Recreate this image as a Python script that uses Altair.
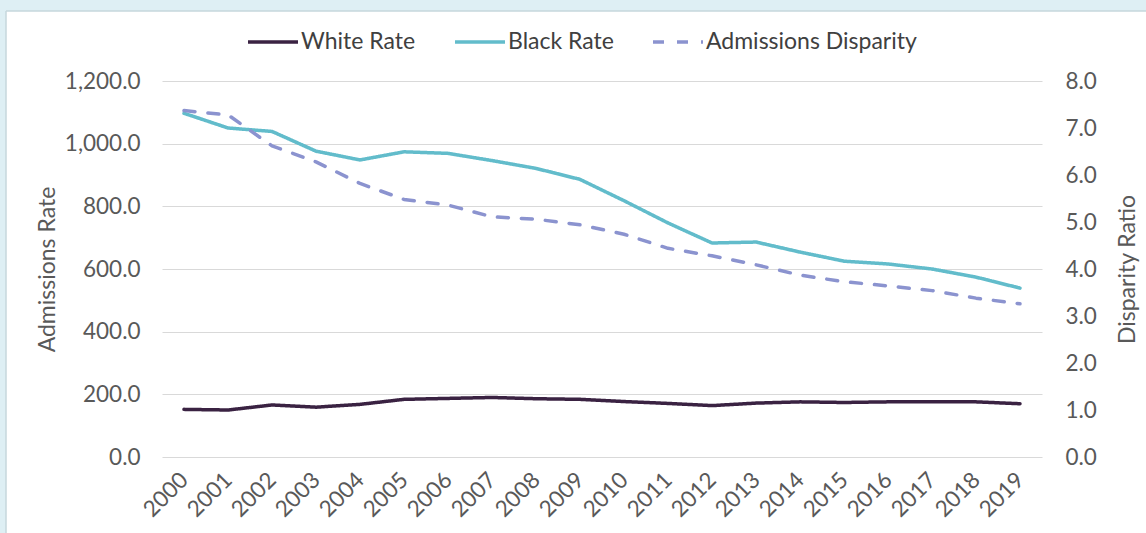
import altair as alt
import pandas as pd

years = [str(y) for y in range(2000, 2020)]
white_rate = [152, 150, 166, 159, 168, 184, 187, 190, 186, 184,
              177, 171, 164, 172, 176, 174, 176, 176, 176, 170]
black_rate = [1097, 1050, 1039, 976, 948, 974, 969, 946, 921, 886,
              818, 747, 683, 686, 654, 625, 616, 600, 574, 539]
disparity = [7.37, 7.28, 6.62, 6.28, 5.82, 5.48, 5.36, 5.11, 5.06, 4.94,
             4.74, 4.44, 4.28, 4.09, 3.87, 3.73, 3.64, 3.54, 3.38, 3.26]
series_names = ["White Rate", "Black Rate", "Admissions Disparity"]
series_colors = ["#3a2242", "#62bccb", "#8b93cf"]
series_dash = [[1, 0], [1, 0], [11, 13]]

rates = pd.DataFrame({
    "Year": years * 2,
    "Value": white_rate + black_rate,
    "Series": [series_names[0]] * len(years) + [series_names[1]] * len(years),
})
disp = pd.DataFrame({"Year": years, "Value": disparity, "Series": series_names[2]})

FONT = "Lato"
TXT = "#595959"
FS = 22.5
LFS = 23

color_scale = alt.Scale(domain=series_names, range=series_colors)
dash_scale = alt.Scale(domain=series_names, range=series_dash)
legend = alt.Legend(
    title=None, orient="none", direction="horizontal", legendX=84, legendY=-66,
    symbolType="stroke", symbolSize=2500, symbolStrokeWidth=3.5,
    labelFont=FONT, labelFontSize=LFS, labelColor="#404040", labelOffset=1,
    columnPadding=32, labelLimit=400,
)

x_enc = alt.X("Year:O", sort=years,
              scale=alt.Scale(type="point", padding=0.5),
              axis=alt.Axis(title=None, labelAngle=315, labelAlign="right",
                            labelBaseline="middle", labelPadding=19,
                            labelFont=FONT, labelFontSize=FS, labelColor=TXT,
                            domain=False, ticks=False, grid=False))

line_rates = alt.Chart(rates).mark_line(strokeWidth=3.5, strokeCap="round", strokeJoin="round").encode(
    x=x_enc,
    y=alt.Y("Value:Q", scale=alt.Scale(domain=[0, 1200]),
            axis=alt.Axis(title="Admissions Rate", orient="left", values=list(range(0, 1201, 200)),
                          format=",.1f", labelFont=FONT, labelFontSize=FS, labelColor=TXT,
                          labelPadding=22, titleFont=FONT, titleFontSize=LFS, titleColor=TXT,
                          titleFontWeight="normal", titlePadding=5,
                          domain=False, ticks=False, grid=True, gridColor="#d9d9d9", gridWidth=1.2)),
    color=alt.Color("Series:N", scale=color_scale, legend=legend),
    strokeDash=alt.StrokeDash("Series:N", scale=dash_scale, legend=legend),
)

line_disp = alt.Chart(disp).mark_line(strokeWidth=3.5, strokeCap="round", strokeJoin="round").encode(
    x=x_enc,
    y=alt.Y("Value:Q", scale=alt.Scale(domain=[0, 8]),
            axis=alt.Axis(title="Disparity Ratio", orient="right", values=list(range(0, 9)),
                          format=".1f", labelFont=FONT, labelFontSize=FS, labelColor=TXT,
                          labelPadding=23, titleFont=FONT, titleFontSize=LFS, titleColor=TXT,
                          titleFontWeight="normal", titleAngle=270, titleBaseline="top",
                          titleAlign="center", titleX=74, titleY=188,
                          domain=False, ticks=False, grid=False)),
    color=alt.Color("Series:N", scale=color_scale, legend=legend),
    strokeDash=alt.StrokeDash("Series:N", scale=dash_scale, legend=legend),
)

one = alt.Data(values=[{"k": 1}])
BAND = "#deeff4"
EDGE = "#c6d7dc"
top_band = alt.Chart(one).mark_rect(color=BAND).encode(
    x=alt.value(-170), x2=alt.value(1000), y=alt.value(-90), y2=alt.value(-70))
left_band = alt.Chart(one).mark_rect(color=BAND).encode(
    x=alt.value(-170), x2=alt.value(-156), y=alt.value(-90), y2=alt.value(460))
top_edge = alt.Chart(one).mark_rule(color=EDGE, strokeWidth=1.5).encode(
    x=alt.value(-156), x2=alt.value(1000), y=alt.value(-70))
left_edge = alt.Chart(one).mark_rule(color=EDGE, strokeWidth=1.5).encode(
    x=alt.value(-156), y=alt.value(-70), y2=alt.value(460))

chart = alt.layer(top_band, left_band, top_edge, left_edge, line_rates, line_disp).resolve_scale(
    y="independent"
).properties(
    width=880, height=376,
    autosize=alt.AutoSizeParams(type="none"),
    padding={"left": 162, "top": 81, "right": 104, "bottom": 76},
    background="white",
).configure_view(stroke=None)

chart.save("out.html", embed_options={"renderer": "svg", "actions": False})
